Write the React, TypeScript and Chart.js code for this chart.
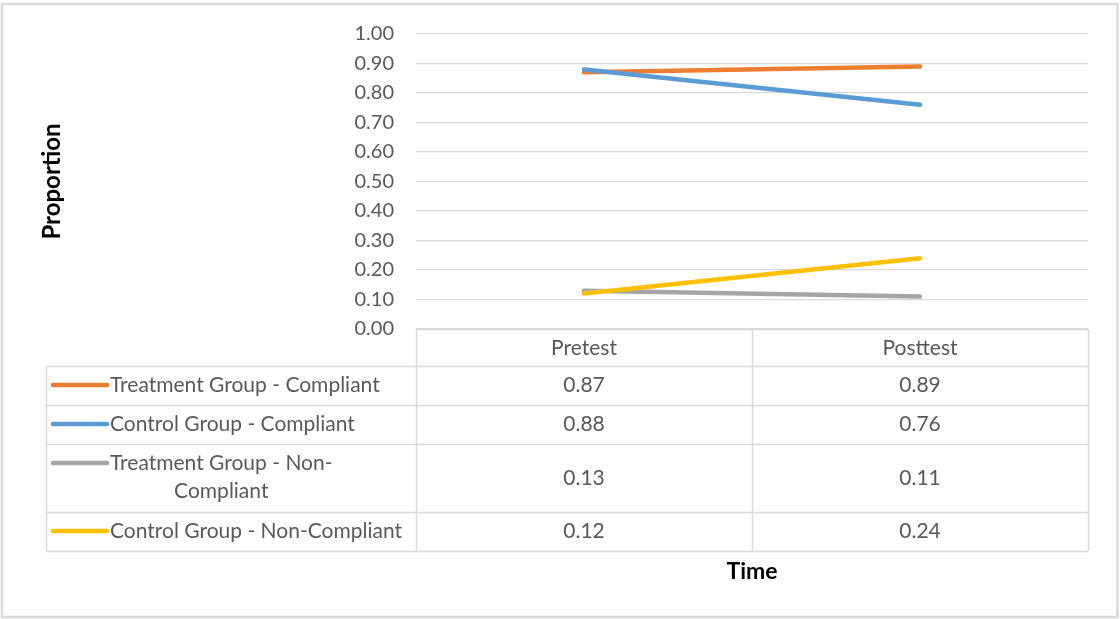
import React, { useEffect, useRef } from 'react';
import { Chart, registerables } from 'chart.js';

Chart.register(...registerables);

// ---- data ----
const categories = ['Pretest', 'Posttest'];
const seriesNames = [
  'Treatment Group - Compliant',
  'Control Group - Compliant',
  'Treatment Group - Non-Compliant',
  'Control Group - Non-Compliant',
];
const treatmentCompliant = [0.87, 0.89];
const controlCompliant = [0.88, 0.76];
const treatmentNonCompliant = [0.13, 0.11];
const controlNonCompliant = [0.12, 0.24];
const seriesColors = ['#ED7D31', '#5B9BD5', '#A5A5A5', '#FFC000'];
const yMin = 0;
const yMax = 1;
const yStep = 0.1;
const yAxisTitle = 'Proportion';
const xAxisTitle = 'Time';

const seriesValues = [treatmentCompliant, controlCompliant, treatmentNonCompliant, controlNonCompliant];

const FONT = 'Lato, "Open Sans", sans-serif';
const TEXT = '#595959';
const BORDER = '#D9D9D9';

function wrapText(ctx: CanvasRenderingContext2D, text: string, maxW: number): string[] {
  const tokens = text.split(/(?<=[\s-])/);
  const lines: string[] = [];
  let line = '';
  for (const t of tokens) {
    const test = (line + t).trimEnd();
    if (ctx.measureText(test).width > maxW && line.trim()) {
      lines.push(line.trimEnd());
      line = t.trimStart();
    } else {
      line += t;
    }
  }
  if (line.trim()) lines.push(line.trimEnd());
  return lines;
}

const tablePlugin = {
  id: 'dataTable',
  beforeDraw(chart: any) {
    const ctx = chart.ctx as CanvasRenderingContext2D;
    ctx.save();
    ctx.fillStyle = '#fff';
    ctx.fillRect(0, 0, chart.width, chart.height);
    ctx.strokeStyle = BORDER;
    ctx.lineWidth = 2.5;
    ctx.strokeRect(2, 4, chart.width - 4.5, chart.height - 6);
    ctx.restore();
  },
  afterDraw(chart: any) {
    const ctx = chart.ctx as CanvasRenderingContext2D;
    const area = chart.chartArea;
    const xs = chart.scales.x;
    const n = categories.length;
    const colW = (area.right - area.left) / n;
    const leftX = 46;
    const keyX0 = 53;
    const keyX1 = 107;
    const textX = 110;
    const headerTop = area.bottom;
    const headerH = 37;
    const lineH = 29;
    const baseRowH = 39;

    ctx.save();
    ctx.font = `21px ${FONT}`;
    const wrapped = seriesNames.map((s) => wrapText(ctx, s, area.left - textX - 6));
    const rowHeights = wrapped.map((l) => baseRowH + lineH * (l.length - 1));
    const rowTops: number[] = [];
    let y = headerTop + headerH;
    for (const h of rowHeights) {
      rowTops.push(y);
      y += h;
    }
    const tableBottom = y;

    // borders
    ctx.strokeStyle = BORDER;
    ctx.lineWidth = 1.5;
    ctx.beginPath();
    for (let k = 0; k <= n; k++) {
      const vx = Math.round(area.left + k * colW) + 0.5;
      ctx.moveTo(vx, headerTop);
      ctx.lineTo(vx, tableBottom);
    }
    ctx.moveTo(leftX + 0.5, headerTop + headerH);
    ctx.lineTo(leftX + 0.5, tableBottom);
    ctx.moveTo(area.left, headerTop + 0.5);
    ctx.lineTo(area.right, headerTop + 0.5);
    for (const t of [...rowTops, tableBottom]) {
      ctx.moveTo(leftX, Math.round(t) + 0.5);
      ctx.lineTo(area.right, Math.round(t) + 0.5);
    }
    ctx.stroke();

    // header
    ctx.fillStyle = TEXT;
    ctx.textAlign = 'center';
    ctx.textBaseline = 'middle';
    categories.forEach((c, i) => {
      ctx.fillText(c, xs.getPixelForValue(i), headerTop + headerH / 2 + 1);
    });

    // rows
    seriesNames.forEach((_, r) => {
      const top = rowTops[r];
      const h = rowHeights[r];
      const firstY = top + 19;
      ctx.strokeStyle = seriesColors[r];
      ctx.lineWidth = 4.5;
      ctx.lineCap = 'round';
      ctx.beginPath();
      ctx.moveTo(keyX0, firstY);
      ctx.lineTo(keyX1, firstY);
      ctx.stroke();

      const lines = wrapped[r];
      const blockW = Math.max(...lines.map((l) => ctx.measureText(l).width));
      ctx.fillStyle = TEXT;
      ctx.textAlign = 'center';
      lines.forEach((l, li) => {
        ctx.fillText(l, textX + blockW / 2, firstY + li * (lineH - 1));
      });
      seriesValues[r].forEach((v, i) => {
        ctx.fillText(v.toFixed(2), xs.getPixelForValue(i), top + h / 2);
      });
    });

    // axis titles
    ctx.fillStyle = '#000';
    ctx.font = `bold 23px ${FONT}`;
    ctx.textAlign = 'center';
    ctx.textBaseline = 'middle';
    ctx.fillText(xAxisTitle, (area.left + area.right) / 2, tableBottom + 21);
    ctx.font = `bold 24px ${FONT}`;
    ctx.translate(52, (area.top + area.bottom) / 2);
    ctx.rotate(-Math.PI / 2);
    ctx.fillText(yAxisTitle, 0, 0);
    ctx.restore();
  },
};

export default function App() {
  const ref = useRef<HTMLCanvasElement>(null);
  useEffect(() => {
    const chart = new Chart(ref.current as HTMLCanvasElement, {
      type: 'line',
      data: {
        labels: categories,
        datasets: seriesNames.map((name, i) => ({
          label: name,
          data: seriesValues[i],
          borderColor: seriesColors[i],
          backgroundColor: seriesColors[i],
          borderWidth: 4.5,
          borderCapStyle: 'round' as const,
          pointRadius: 0,
          tension: 0,
          order: seriesNames.length - i,
        })),
      },
      options: {
        animation: false,
        responsive: true,
        maintainAspectRatio: false,
        layout: { padding: { top: 32, right: 32, bottom: 290, left: 0 } },
        plugins: { legend: { display: false }, tooltip: { enabled: false } },
        scales: {
          x: { type: 'category', display: false, offset: true },
          y: {
            min: yMin,
            max: yMax,
            ticks: {
              stepSize: yStep,
              padding: 22,
              color: TEXT,
              font: { family: FONT, size: 20 },
              callback: (v: any) => Number(v).toFixed(2),
            },
            grid: { color: BORDER, lineWidth: 1.3, drawTicks: false },
            border: { display: false },
            afterFit: (s: any) => {
              s.width = 416;
            },
          },
        },
      },
      plugins: [tablePlugin],
    } as any);
    return () => chart.destroy();
  }, []);
  return (
    <div style={{ position: 'absolute', left: 0, top: 0, width: 1120, height: 619, background: '#fff' }}>
      <canvas ref={ref} />
    </div>
  );
}
